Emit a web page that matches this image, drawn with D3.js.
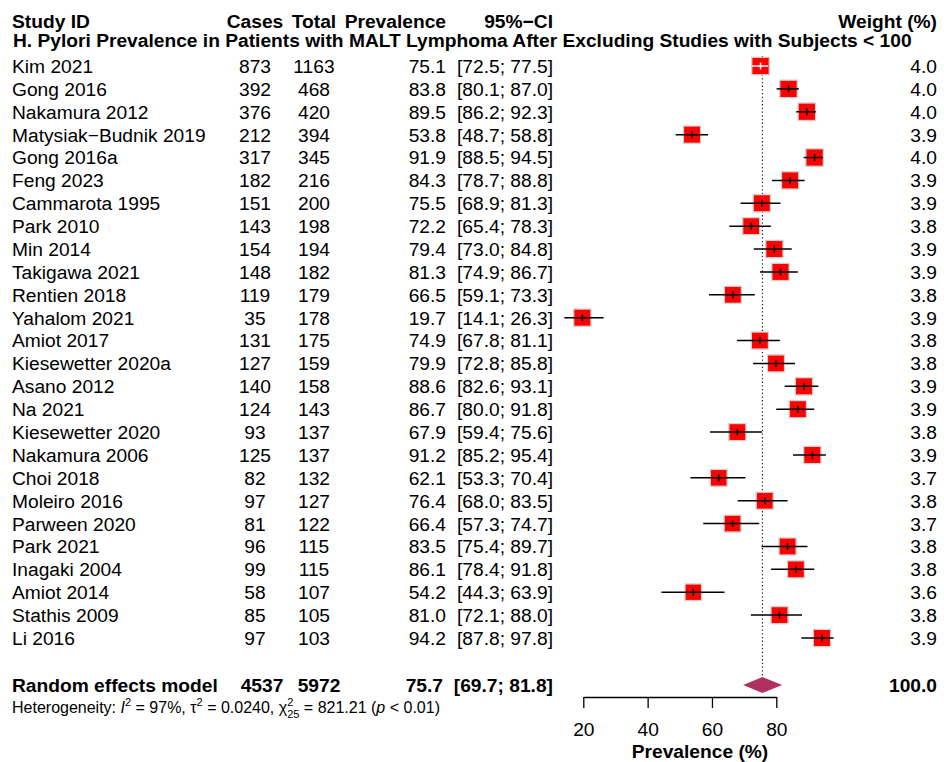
<!DOCTYPE html>
<html>
<head>
<meta charset="utf-8">
<script src="https://cdn.jsdelivr.net/npm/d3@7"></script>
<style>
  body { margin: 0; background: #fff; }
  text { font-family: "Liberation Sans", Arial, Helvetica, sans-serif; fill: #000; }
</style>
</head>
<body>
<div id="chart"></div>
<script>
const width = 944;
const height = 762;

// study rows
const studies = ['Kim 2021', 'Gong 2016', 'Nakamura 2012', 'Matysiak\u2212Budnik 2019', 'Gong 2016a',
  'Feng 2023', 'Cammarota 1995', 'Park 2010', 'Min 2014', 'Takigawa 2021', 'Rentien 2018',
  'Yahalom 2021', 'Amiot 2017', 'Kiesewetter 2020a', 'Asano 2012', 'Na 2021', 'Kiesewetter 2020',
  'Nakamura 2006', 'Choi 2018', 'Moleiro 2016', 'Parween 2020', 'Park 2021', 'Inagaki 2004',
  'Amiot 2014', 'Stathis 2009', 'Li 2016'];
const cases = [873, 392, 376, 212, 317, 182, 151, 143, 154, 148, 119, 35, 131, 127, 140, 124, 93, 125, 82, 97, 81, 96, 99, 58, 85, 97];
const totals = [1163, 468, 420, 394, 345, 216, 200, 198, 194, 182, 179, 178, 175, 159, 158, 143, 137, 137, 132, 127, 122, 115, 115, 107, 105, 103];
const prevalence = [75.1, 83.8, 89.5, 53.8, 91.9, 84.3, 75.5, 72.2, 79.4, 81.3, 66.5, 19.7, 74.9, 79.9, 88.6, 86.7, 67.9, 91.2, 62.1, 76.4, 66.4, 83.5, 86.1, 54.2, 81.0, 94.2];
const lower = [72.5, 80.1, 86.2, 48.7, 88.5, 78.7, 68.9, 65.4, 73.0, 74.9, 59.1, 14.1, 67.8, 72.8, 82.6, 80.0, 59.4, 85.2, 53.3, 68.0, 57.3, 75.4, 78.4, 44.3, 72.1, 87.8];
const upper = [77.5, 87.0, 92.3, 58.8, 94.5, 88.8, 81.3, 78.3, 84.8, 86.7, 73.3, 26.3, 81.1, 85.8, 93.1, 91.8, 75.6, 95.4, 70.4, 83.5, 74.7, 89.7, 91.8, 63.9, 88.0, 97.8];
const weights = [4.0, 4.0, 4.0, 3.9, 4.0, 3.9, 3.9, 3.8, 3.9, 3.9, 3.8, 3.9, 3.8, 3.8, 3.9, 3.9, 3.8, 3.9, 3.7, 3.8, 3.7, 3.8, 3.8, 3.6, 3.8, 3.9];

// pooled random effects estimate
const pooled = { label: 'Random effects model', cases: 4537, total: 5972, est: 75.7, lower: 69.7, upper: 81.8, weight: 100.0 };
const axisTicks = [20, 40, 60, 80];

const headers = ['Study ID', 'Cases', 'Total', 'Prevalence', '95%\u2212CI', 'Weight (%)'];
const subtitle = 'H. Pylori Prevalence in Patients with MALT Lymphoma After Excluding Studies with Subjects < 100';

const svg = d3.select('#chart').append('svg')
  .attr('width', width)
  .attr('height', height);

svg.append('rect').attr('width', width).attr('height', height).attr('fill', '#fff');

// prevalence -> pixel
const x = d3.scaleLinear().domain([20, 80]).range([583.3, 776.3]);
// row index -> pixel (summary sits two rows below the last study)
const y = d3.scaleLinear().domain([0, studies.length - 1]).range([66, 638]);
const ySummary = 685;
// square side from weight
const side = d3.scaleSqrt().domain([0, 4.0]).range([0, 17.5]);

const fs = 19.2;
// column anchors
const col = {
  study: { x: 12, anchor: 'start' },
  cases: { x: 255, anchor: 'middle' },
  total: { x: 314, anchor: 'middle' },
  prev: { x: 446, anchor: 'end' },
  ci: { x: 553, anchor: 'end' },
  weight: { x: 937, anchor: 'end' }
};

function addText(str, c, yy, bold) {
  return svg.append('text')
    .attr('x', c.x)
    .attr('y', yy)
    .attr('dy', '0.36em')
    .attr('text-anchor', c.anchor)
    .attr('font-size', fs)
    .attr('font-weight', bold ? 'bold' : 'normal')
    .text(str);
}

// ----- header -----
const headCols = [col.study, col.cases, col.total, col.prev, col.ci, col.weight];
headers.forEach((h, i) => addText(h, headCols[i], 21, true));
addText(subtitle, col.study, 40, true).attr('x', 13);

// ----- study rows -----
const fmt1 = d3.format('.1f');
studies.forEach((s, i) => {
  const yy = y(i);
  addText(s, col.study, yy);
  addText(cases[i], col.cases, yy);
  addText(totals[i], col.total, yy);
  addText(fmt1(prevalence[i]), col.prev, yy);
  addText('[' + fmt1(lower[i]) + '; ' + fmt1(upper[i]) + ']', col.ci, yy);
  addText(fmt1(weights[i]), col.weight, yy);
});

// ----- summary row -----
addText(pooled.label, col.study, ySummary, true);
addText(pooled.cases, { x: 262, anchor: 'middle' }, ySummary, true);
addText(pooled.total, { x: 319, anchor: 'middle' }, ySummary, true);
addText(fmt1(pooled.est), { x: 443, anchor: 'end' }, ySummary, true);
addText('[' + fmt1(pooled.lower) + '; ' + fmt1(pooled.upper) + ']', col.ci, ySummary, true);
addText(fmt1(pooled.weight), col.weight, ySummary, true);

// heterogeneity line with italics and scripts
const het = svg.append('text')
  .attr('x', 12)
  .attr('y', 707)
  .attr('dy', '0.36em')
  .attr('font-size', 16);
het.append('tspan').text('Heterogeneity: ');
het.append('tspan').attr('font-style', 'italic').text('I');
het.append('tspan').attr('font-size', 11).attr('dy', -7).text('2');
het.append('tspan').attr('dy', 7).text(' = 97%, \u03c4');
het.append('tspan').attr('font-size', 11).attr('dy', -7).text('2');
het.append('tspan').attr('dy', 7).text(' = 0.0240, \u03c7');
het.append('tspan').attr('font-size', 11).attr('dy', -7).text('2');
het.append('tspan').attr('font-size', 11).attr('dx', '-0.556em').attr('dy', 12).text('25');
het.append('tspan').attr('dy', -5).text(' = 821.21 (');
het.append('tspan').attr('font-style', 'italic').text('p');
het.append('tspan').text(' < 0.01)');

// ----- plot -----
// dotted line at the pooled estimate
svg.append('line')
  .attr('x1', x(pooled.est)).attr('x2', x(pooled.est))
  .attr('y1', 56).attr('y2', ySummary - 8)
  .attr('stroke', '#222')
  .attr('stroke-width', 1.2)
  .attr('stroke-dasharray', '1.3,2.4');

const rows = svg.append('g').selectAll('g').data(studies).enter().append('g');

rows.append('rect')
  .attr('x', (d, i) => x(prevalence[i]) - side(weights[i]) / 2)
  .attr('y', (d, i) => y(i) - side(weights[i]) / 2)
  .attr('width', (d, i) => side(weights[i]))
  .attr('height', (d, i) => side(weights[i]))
  .attr('fill', '#ff0000')
  .attr('stroke', '#d2d2d2')
  .attr('stroke-width', 1.3);

// CI drawn white when it fits inside the square
function ciColour(i) {
  const half = side(weights[i]) / 2;
  const inside = x(lower[i]) > x(prevalence[i]) - half && x(upper[i]) < x(prevalence[i]) + half;
  return inside ? '#fff' : '#000';
}

rows.append('line')
  .attr('x1', (d, i) => x(lower[i]))
  .attr('x2', (d, i) => x(upper[i]))
  .attr('y1', (d, i) => y(i))
  .attr('y2', (d, i) => y(i))
  .attr('stroke', (d, i) => ciColour(i))
  .attr('stroke-width', 1.5);

rows.append('line')
  .attr('x1', (d, i) => x(prevalence[i]))
  .attr('x2', (d, i) => x(prevalence[i]))
  .attr('y1', (d, i) => y(i) - 3.5)
  .attr('y2', (d, i) => y(i) + 3.5)
  .attr('stroke', (d, i) => ciColour(i))
  .attr('stroke-width', 1.5);

// pooled diamond
svg.append('path')
  .attr('d', d3.line()([
    [x(pooled.lower), ySummary],
    [x(pooled.est), ySummary - 8],
    [x(pooled.upper), ySummary],
    [x(pooled.est), ySummary + 8]
  ]) + 'Z')
  .attr('fill', '#b03060');

// ----- axis -----
const axisY = 697;
const gAxis = svg.append('g')
  .attr('transform', `translate(0,${axisY})`)
  .call(d3.axisBottom(x).tickValues(axisTicks).tickSize(11).tickSizeOuter(0).tickPadding(14));
gAxis.select('.domain').attr('stroke', '#000').attr('stroke-width', 1.3);
gAxis.selectAll('.tick line').attr('stroke', '#000').attr('stroke-width', 1.3);
gAxis.selectAll('.tick text')
  .attr('font-size', fs)
  .attr('font-family', '"Liberation Sans", Arial, sans-serif')
  .attr('fill', '#000');

svg.append('text')
  .attr('x', 700)
  .attr('y', 758)
  .attr('text-anchor', 'middle')
  .attr('font-size', fs)
  .attr('font-weight', 'bold')
  .text('Prevalence (%)');
</script>
</body>
</html>
